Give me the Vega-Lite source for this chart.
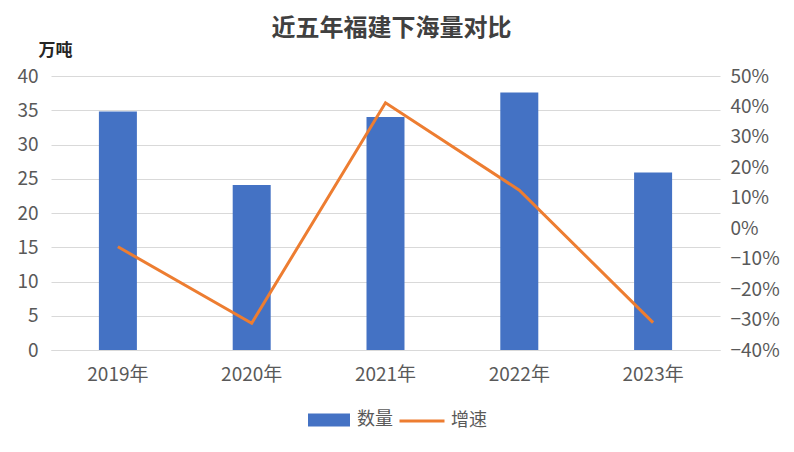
{
  "$schema": "https://vega.github.io/schema/vega-lite/v6.json",
  "width": 669,
  "height": 274,
  "autosize": {"type": "none"},
  "padding": {"left": 51, "top": 76, "right": 74, "bottom": 102},
  "background": "white",
  "config": {
    "font": "Noto Sans CJK SC",
    "view": {"stroke": null}
  },
  "title": {
    "text": "近五年福建下海量对比",
    "fontSize": 24,
    "fontWeight": "bold",
    "color": "#404040",
    "offset": 0,
    "anchor": "middle",
    "dx": 6
  },
  "data": {
    "values": [
      {"year": "2019年", "qty": 34.8, "growth": -0.061},
      {"year": "2020年", "qty": 24.1, "growth": -0.312},
      {"year": "2021年", "qty": 34.0, "growth": 0.412},
      {"year": "2022年", "qty": 37.6, "growth": 0.125},
      {"year": "2023年", "qty": 25.9, "growth": -0.31}
    ]
  },
  "encoding": {
    "x": {
      "field": "year",
      "type": "nominal",
      "sort": null,
      "scale": {"paddingInner": 0.716, "paddingOuter": 0.358},
      "axis": {
        "title": null,
        "labelAngle": 0,
        "labelFontSize": 19,
        "labelColor": "#595959",
        "labelPadding": 15,
        "ticks": false,
        "domainColor": "#D9D9D9"
      }
    }
  },
  "layer": [
    {
      "mark": {"type": "bar"},
      "encoding": {
        "y": {
          "field": "qty",
          "type": "quantitative",
          "scale": {"domain": [0, 40]},
          "axis": {
            "values": [0, 5, 10, 15, 20, 25, 30, 35, 40],
            "title": "万吨",
            "titleAngle": 0,
            "titleX": 4,
            "titleY": -26,
            "titleAlign": "center",
            "titleBaseline": "middle",
            "titleFontSize": 17,
            "titleFontWeight": "bold",
            "titleColor": "#262626",
            "labelFontSize": 19,
            "labelColor": "#595959",
            "labelPadding": 13,
            "ticks": false,
            "domain": false,
            "gridColor": "#D9D9D9"
          }
        },
        "fill": {
          "datum": "数量",
          "type": "nominal",
          "scale": {"range": ["#4472C4"]},
          "legend": {
            "orient": "none",
            "legendX": 257,
            "legendY": 323,
            "title": null,
            "padding": 0,
            "symbolType": "M-1,-0.31H1V0.31H-1Z",
            "symbolSize": 1764,
            "symbolStrokeWidth": 0,
            "labelFontSize": 18,
            "labelColor": "#595959",
            "labelOffset": 7
          }
        }
      }
    },
    {
      "mark": {"type": "line", "strokeWidth": 3},
      "encoding": {
        "y": {
          "field": "growth",
          "type": "quantitative",
          "scale": {"domain": [-0.4, 0.5]},
          "axis": {
            "orient": "right",
            "format": ".0%",
            "values": [-0.4, -0.3, -0.2, -0.1, 0, 0.1, 0.2, 0.3, 0.4, 0.5],
            "title": null,
            "grid": false,
            "labelFontSize": 19,
            "labelColor": "#595959",
            "labelPadding": 10,
            "ticks": false,
            "domain": false
          }
        },
        "stroke": {
          "datum": "增速",
          "type": "nominal",
          "scale": {"range": ["#ED7D31"]},
          "legend": {
            "orient": "none",
            "legendX": 347,
            "legendY": 321,
            "title": null,
            "padding": 0,
            "symbolType": "stroke",
            "symbolSize": 2025,
            "symbolStrokeWidth": 3,
            "labelFontSize": 18,
            "labelColor": "#595959",
            "labelOffset": 5
          }
        }
      }
    }
  ],
  "resolve": {"scale": {"y": "independent", "fill": "independent", "stroke": "independent"}}
}
